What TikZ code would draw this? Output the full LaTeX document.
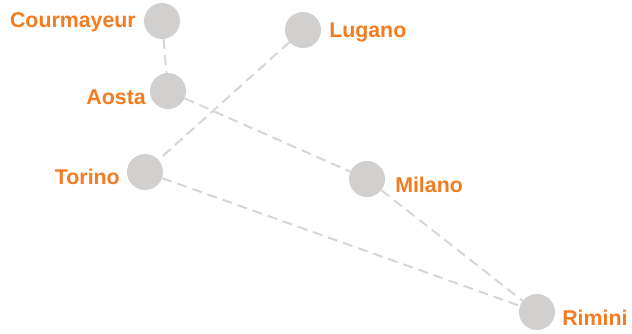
\documentclass[tikz,border=0pt]{standalone}
\usepackage{fontspec}
\setmainfont{Liberation Sans}
\definecolor{cityorange}{HTML}{F47B20}
\definecolor{dotgray}{HTML}{D1D0CF}
\definecolor{linegray}{HTML}{D6D6D6}
\tikzset{
  city/.style={circle, fill=dotgray, draw=none, minimum size=36*0.75pt, inner sep=0pt},
  lab/.style={text=cityorange, font=\fontsize{16pt}{19pt}\selectfont\bfseries, inner sep=0pt},
  road/.style={draw=linegray, line width=1.5pt, dash pattern=on 7.5pt off 4.5pt},
}
\begin{document}
\begin{tikzpicture}[x=0.75pt,y=-0.75pt]
\useasboundingbox (0,0) rectangle (632,333);
\node[city] (courmayeur) at (162,21) {};
\node[city] (lugano) at (303,30) {};
\node[city] (aosta) at (168,91) {};
\node[city] (torino) at (145,172) {};
\node[city] (milano) at (367,179) {};
\node[city] (rimini) at (537,312) {};
\node[lab, anchor=base east] (courmayeur-lab) at (136,27) {Courmayeur};
\node[lab, anchor=base west] (lugano-lab) at (329,37) {Lugano};
\node[lab, anchor=base east] (aosta-lab) at (146,104) {Aosta};
\node[lab, anchor=base east] (torino-lab) at (120,184) {Torino};
\node[lab, anchor=base west] (milano-lab) at (395,192) {Milano};
\node[lab, anchor=base west] (rimini-lab) at (562,325) {Rimini};
\draw[road] (courmayeur) -- (aosta);
\draw[road] (lugano) -- (torino);
\draw[road] (aosta) -- (milano);
\draw[road] (torino) -- (rimini);
\draw[road] (milano) -- (rimini);
\end{tikzpicture}
\end{document}
